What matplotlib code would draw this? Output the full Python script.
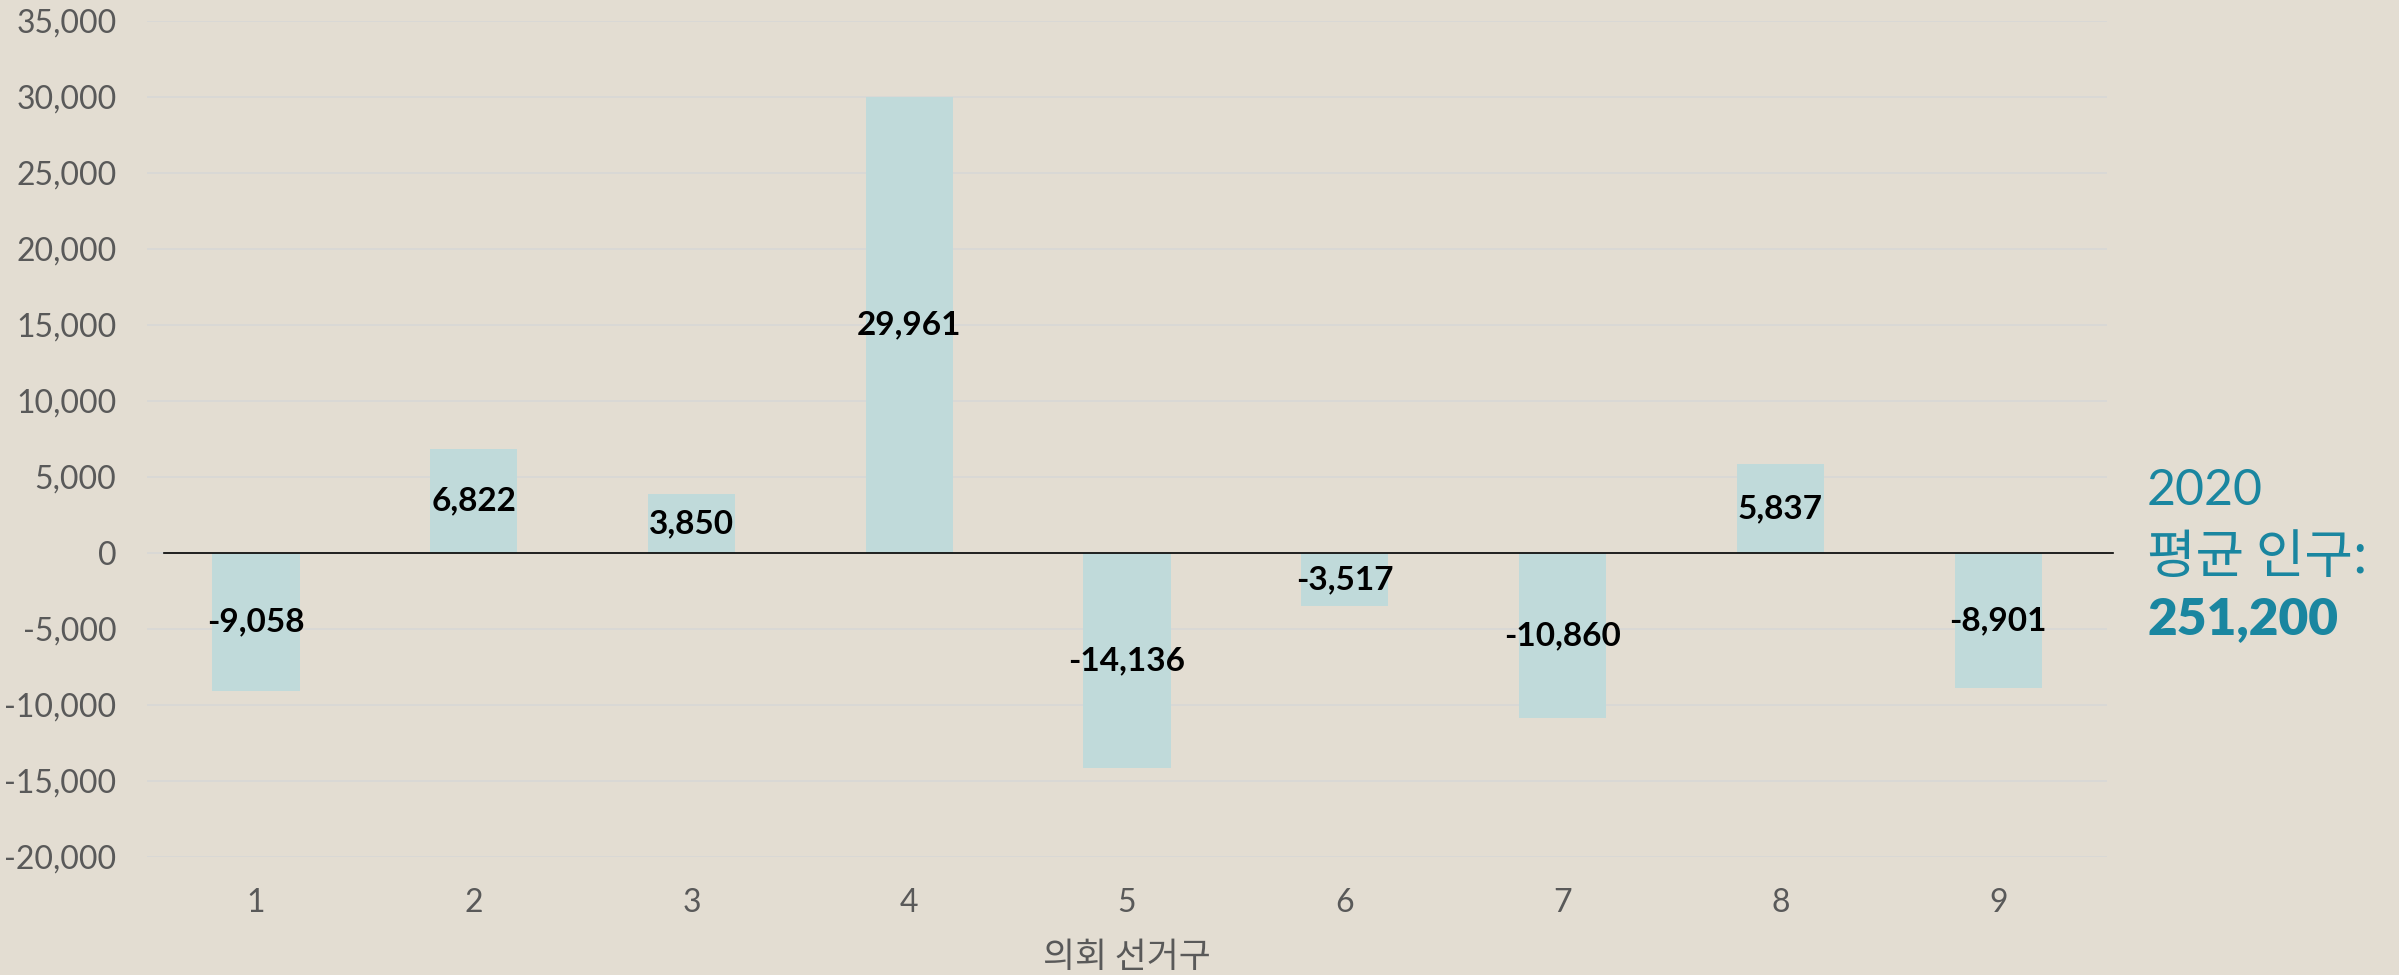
import numpy as np
import matplotlib.pyplot as plt
from matplotlib.ticker import FuncFormatter

# deviation from 2020 average population per congressional district
districts = ['1', '2', '3', '4', '5', '6', '7', '8', '9']
deviation = [-9058, 6822, 3850, 29961, -14136, -3517, -10860, 5837, -8901]
avg_year = '2020'
avg_label = '평균 인구:'
avg_value = '251,200'

bg = '#E3DDD2'
bar_color = '#C0DADA'
teal = '#1A86A0'
grey = '#595959'

fig = plt.figure(figsize=(23.99, 9.75), dpi=100, facecolor=bg)
ax = fig.add_axes([0.0613, 0.1210, 0.8170, 0.8578])
ax.set_facecolor(bg)

x = np.arange(1, len(districts) + 1)
bars = ax.bar(x, deviation, width=0.4, color=bar_color, zorder=2)

ax.set_xlim(0.5, len(districts) + 0.5)
ax.set_ylim(-20000, 35000)
ax.set_yticks(np.arange(-20000, 35001, 5000))
ax.yaxis.set_major_formatter(FuncFormatter(lambda v, p: f'{int(v):,}'))
ax.set_xticks(x)
ax.set_xticklabels(districts)

ax.grid(axis='y', color='#D8D8D6', linewidth=1.2, zorder=0)
ax.axhline(0, xmin=0.0087, xmax=1.003, color='black', linewidth=1.2,
           zorder=3, clip_on=False)

for s in ax.spines.values():
    s.set_visible(False)
ax.tick_params(length=0)
ax.tick_params(axis='y', pad=22, labelsize=23, labelcolor=grey)
ax.tick_params(axis='x', pad=22, labelsize=23, labelcolor=grey)
for lab in ax.get_xticklabels() + ax.get_yticklabels():
    lab.set_family('Lato')

ax.set_xlabel('의회 선거구', family='Noto Sans CJK KR', fontsize=25,
              color=grey, labelpad=16)

labels = ax.bar_label(bars, labels=[f'{v:,}' for v in deviation],
                      label_type='center', fontsize=24, fontweight='bold',
                      family='Lato', color='black', zorder=4)

# average population annotation on the right
fig.text(0.895, 0.482, avg_year, family='Lato', fontsize=36, color=teal,
         ha='left', va='baseline')
fig.text(0.895, 0.412, avg_label, family='Noto Sans CJK KR', fontsize=38,
         color=teal, ha='left', va='baseline')
fig.text(0.895, 0.350, avg_value, family='Lato', fontsize=37,
         fontweight='heavy', color=teal, ha='left', va='baseline')

fig.savefig('out.png', dpi=100, facecolor=bg)
